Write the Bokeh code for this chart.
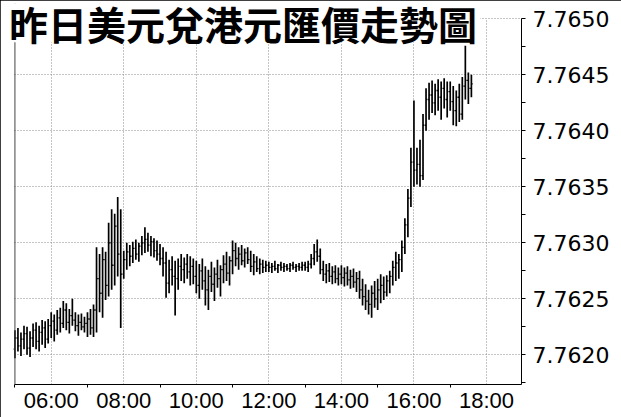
from bokeh.plotting import figure
from bokeh.models import (Range1d, FixedTicker, PrintfTickFormatter,
                          Label, ColumnDataSource, Span, BoxAnnotation)
from bokeh.embed import file_html
from bokeh.resources import INLINE

title_text = "昨日美元兌港元匯價走勢圖"

# 5-minute OHLC bars starting at 05:00
bar_start_hour = 5.0
bar_minutes = 5

opens = [
    7.76205, 7.76215, 7.76208, 7.76214, 7.76219, 7.76206, 7.76215, 7.76222, 7.76212, 7.76220, 7.76224, 7.76214,
    7.76226, 7.76230, 7.76222, 7.76233, 7.76228, 7.76240, 7.76229, 7.76235, 7.76231, 7.76226, 7.76229, 7.76225,
    7.76228, 7.76232, 7.76224, 7.76240, 7.76268, 7.76255, 7.76285, 7.76262, 7.76300, 7.76280, 7.76315, 7.76290,
    7.76272, 7.76285, 7.76292, 7.76288, 7.76295, 7.76290, 7.76297, 7.76300, 7.76303, 7.76298, 7.76301, 7.76293,
    7.76290, 7.76286, 7.76282, 7.76264, 7.76276, 7.76270, 7.76268, 7.76279, 7.76276, 7.76281, 7.76274, 7.76279,
    7.76270, 7.76262, 7.76275, 7.76266, 7.76258, 7.76270, 7.76263, 7.76272, 7.76268, 7.76276, 7.76281, 7.76273,
    7.76284, 7.76293, 7.76286, 7.76290, 7.76284, 7.76291, 7.76285, 7.76279, 7.76283, 7.76277, 7.76281, 7.76278,
    7.76280, 7.76278, 7.76279, 7.76277, 7.76280, 7.76278, 7.76279, 7.76277, 7.76280, 7.76278, 7.76279, 7.76278,
    7.76280, 7.76278, 7.76281, 7.76286, 7.76292, 7.76288, 7.76276, 7.76272, 7.76275, 7.76270, 7.76274, 7.76268,
    7.76272, 7.76269, 7.76273, 7.76267, 7.76270, 7.76265, 7.76268, 7.76258, 7.76252, 7.76248, 7.76245, 7.76255,
    7.76250, 7.76258, 7.76262, 7.76256, 7.76266, 7.76270, 7.76278, 7.76282, 7.76285, 7.76296, 7.76316, 7.76340,
    7.76372, 7.76365, 7.76370, 7.76360, 7.76405, 7.76428, 7.76432, 7.76425, 7.76436, 7.76430, 7.76438, 7.76428,
    7.76435, 7.76426, 7.76418, 7.76430, 7.76415, 7.76440, 7.76445, 7.76438,
]
highs = [
    7.76222, 7.76224, 7.76220, 7.76226, 7.76225, 7.76221, 7.76228, 7.76229, 7.76226, 7.76231, 7.76230, 7.76232,
    7.76238, 7.76236, 7.76240, 7.76242, 7.76248, 7.76246, 7.76241, 7.76250, 7.76238, 7.76236, 7.76237, 7.76234,
    7.76238, 7.76241, 7.76245, 7.76296, 7.76290, 7.76296, 7.76292, 7.76318, 7.76330, 7.76326, 7.76341, 7.76330,
    7.76293, 7.76300, 7.76298, 7.76301, 7.76303, 7.76300, 7.76306, 7.76314, 7.76309, 7.76306, 7.76304, 7.76302,
    7.76299, 7.76296, 7.76292, 7.76285, 7.76288, 7.76284, 7.76286, 7.76290, 7.76287, 7.76290, 7.76288, 7.76286,
    7.76284, 7.76281, 7.76286, 7.76279, 7.76276, 7.76283, 7.76278, 7.76285, 7.76280, 7.76289, 7.76292, 7.76288,
    7.76302, 7.76300, 7.76296, 7.76298, 7.76295, 7.76296, 7.76293, 7.76290, 7.76288, 7.76286, 7.76285, 7.76284,
    7.76283, 7.76282, 7.76284, 7.76281, 7.76283, 7.76282, 7.76281, 7.76282, 7.76283, 7.76281, 7.76282, 7.76283,
    7.76283, 7.76284, 7.76290, 7.76299, 7.76303, 7.76295, 7.76284, 7.76281, 7.76282, 7.76279, 7.76280, 7.76278,
    7.76280, 7.76278, 7.76279, 7.76276, 7.76277, 7.76274, 7.76275, 7.76268, 7.76263, 7.76258, 7.76262, 7.76266,
    7.76268, 7.76272, 7.76270, 7.76271, 7.76275, 7.76284, 7.76292, 7.76290, 7.76302, 7.76322, 7.76348, 7.76385,
    7.76427, 7.76385, 7.76392, 7.76415, 7.76438, 7.76443, 7.76445, 7.76442, 7.76446, 7.76444, 7.76447, 7.76444,
    7.76444, 7.76440, 7.76436, 7.76442, 7.76448, 7.76476, 7.76452, 7.76450,
]
lows = [
    7.76197, 7.76203, 7.76199, 7.76205, 7.76200, 7.76198, 7.76207, 7.76205, 7.76203, 7.76209, 7.76206, 7.76210,
    7.76215, 7.76212, 7.76218, 7.76220, 7.76224, 7.76222, 7.76219, 7.76226, 7.76221, 7.76217, 7.76222, 7.76220,
    7.76216, 7.76218, 7.76216, 7.76220, 7.76238, 7.76233, 7.76249, 7.76252, 7.76258, 7.76262, 7.76270, 7.76224,
    7.76268, 7.76276, 7.76279, 7.76282, 7.76285, 7.76283, 7.76289, 7.76291, 7.76292, 7.76288, 7.76287, 7.76284,
    7.76280, 7.76270, 7.76251, 7.76255, 7.76262, 7.76235, 7.76258, 7.76266, 7.76264, 7.76268, 7.76262, 7.76263,
    7.76255, 7.76250, 7.76258, 7.76244, 7.76240, 7.76256, 7.76248, 7.76260, 7.76252, 7.76264, 7.76266, 7.76262,
    7.76272, 7.76279, 7.76276, 7.76280, 7.76278, 7.76281, 7.76274, 7.76271, 7.76274, 7.76272, 7.76273, 7.76274,
    7.76274, 7.76273, 7.76275, 7.76273, 7.76275, 7.76274, 7.76275, 7.76274, 7.76276, 7.76274, 7.76275, 7.76275,
    7.76275, 7.76274, 7.76277, 7.76280, 7.76283, 7.76272, 7.76266, 7.76264, 7.76265, 7.76263, 7.76264, 7.76262,
    7.76263, 7.76261, 7.76262, 7.76259, 7.76260, 7.76256, 7.76250, 7.76244, 7.76240, 7.76236, 7.76233, 7.76242,
    7.76240, 7.76246, 7.76249, 7.76252, 7.76255, 7.76262, 7.76266, 7.76268, 7.76274, 7.76290, 7.76305, 7.76332,
    7.76350, 7.76352, 7.76350, 7.76356, 7.76400, 7.76410, 7.76416, 7.76414, 7.76418, 7.76410, 7.76420, 7.76412,
    7.76418, 7.76405, 7.76404, 7.76408, 7.76410, 7.76428, 7.76424, 7.76430,
]
closes = [
    7.76215, 7.76208, 7.76214, 7.76219, 7.76206, 7.76215, 7.76222, 7.76212, 7.76220, 7.76224, 7.76214, 7.76226,
    7.76230, 7.76222, 7.76233, 7.76228, 7.76240, 7.76229, 7.76235, 7.76231, 7.76226, 7.76229, 7.76225, 7.76228,
    7.76232, 7.76224, 7.76240, 7.76268, 7.76255, 7.76285, 7.76262, 7.76300, 7.76280, 7.76315, 7.76290, 7.76272,
    7.76285, 7.76292, 7.76288, 7.76295, 7.76290, 7.76297, 7.76300, 7.76303, 7.76298, 7.76301, 7.76293, 7.76290,
    7.76286, 7.76282, 7.76264, 7.76276, 7.76270, 7.76268, 7.76279, 7.76276, 7.76281, 7.76274, 7.76279, 7.76270,
    7.76262, 7.76275, 7.76266, 7.76258, 7.76270, 7.76263, 7.76272, 7.76268, 7.76276, 7.76281, 7.76273, 7.76284,
    7.76293, 7.76286, 7.76290, 7.76284, 7.76291, 7.76285, 7.76279, 7.76283, 7.76277, 7.76281, 7.76278, 7.76280,
    7.76278, 7.76279, 7.76277, 7.76280, 7.76278, 7.76279, 7.76277, 7.76280, 7.76278, 7.76279, 7.76278, 7.76280,
    7.76278, 7.76281, 7.76286, 7.76292, 7.76288, 7.76276, 7.76272, 7.76275, 7.76270, 7.76274, 7.76268, 7.76272,
    7.76269, 7.76273, 7.76267, 7.76270, 7.76265, 7.76268, 7.76258, 7.76252, 7.76248, 7.76245, 7.76255, 7.76250,
    7.76258, 7.76262, 7.76256, 7.76266, 7.76270, 7.76278, 7.76282, 7.76285, 7.76296, 7.76316, 7.76340, 7.76372,
    7.76365, 7.76370, 7.76360, 7.76405, 7.76428, 7.76432, 7.76425, 7.76436, 7.76430, 7.76438, 7.76428, 7.76435,
    7.76426, 7.76418, 7.76430, 7.76415, 7.76440, 7.76445, 7.76438, 7.76442,
]

x_tick_hours = [6, 8, 10, 12, 14, 16, 18]
x_tick_labels = ["06:00", "08:00", "10:00", "12:00", "14:00", "16:00", "18:00"]
x_minor_hours = [5, 7, 9, 11, 13, 15, 17, 19]
y_ticks = [7.7620, 7.7625, 7.7630, 7.7635, 7.7640, 7.7645, 7.7650]
y_minor = [7.76175, 7.76225, 7.76275, 7.76325, 7.76375, 7.76425, 7.76475]

t = [bar_start_hour + i * bar_minutes / 60 for i in range(len(closes))]
half = 0.035
src = ColumnDataSource(dict(
    t=t,
    tl=[v - half for v in t],
    tr=[v + half for v in t],
    o=opens, h=highs, l=lows, c=closes,
))

W, H = 621, 417
x_start, x_end = 4.685, 18.965
y_start, y_end = 7.761735, 7.765137
# white panel behind the title (layout constants, in axis units)
title_box_right = 17.83
title_box_bottom = 7.76479

p = figure(width=W, height=H,
           x_range=Range1d(x_start, x_end), y_range=Range1d(y_start, y_end),
           output_backend="svg", toolbar_location=None,
           x_axis_location="below", y_axis_location="right",
           min_border_left=3, min_border_right=100,
           min_border_top=3, min_border_bottom=33,
           background_fill_color="white", border_fill_color="white",
           outline_line_color=None)
# outer black frame of the picture (outline does not change the layout)
p.styles = {"outline": "3px solid black", "outline-offset": "-3px"}

# grid
p.xgrid.ticker = FixedTicker(ticks=x_tick_hours)
p.ygrid.ticker = FixedTicker(ticks=y_ticks)
for g in (p.xgrid[0], p.ygrid[0]):
    g.grid_line_color = "#8a8a8a"
    g.grid_line_dash = "1 2"
    g.grid_line_width = 1
if "cross_bounds" in p.xgrid[0].properties():
    p.xgrid[0].cross_bounds = (y_start, y_ticks[-1])
    p.ygrid[0].cross_bounds = (x_minor_hours[0], x_end)

# left frame line at 05:00
p.add_layout(Span(location=x_minor_hours[0], dimension="height",
                  line_color="#444444", line_width=1))

# bars
p.segment(x0="t", y0="l", x1="t", y1="h", source=src, line_color="black", line_width=1.7)
p.segment(x0="tl", y0="o", x1="t", y1="o", source=src, line_color="black", line_width=1.3)
p.segment(x0="t", y0="c", x1="tr", y1="c", source=src, line_color="black", line_width=1.3)

# x axis
xa = p.xaxis[0]
xa.bounds = (x_minor_hours[0], x_end)
xa.ticker = FixedTicker(ticks=x_tick_hours, minor_ticks=x_minor_hours)
xa.major_label_overrides = dict(zip(x_tick_hours, x_tick_labels))
xa.major_tick_out = 0
xa.major_tick_in = 0
xa.minor_tick_out = 3
xa.minor_tick_in = 0
xa.major_label_standoff = 0
xa.major_label_text_font = "Liberation Sans"
xa.major_label_text_font_size = "22px"
xa.major_label_text_color = "black"
xa.axis_line_color = "black"
xa.major_tick_line_color = "black"
xa.minor_tick_line_color = "black"

# y axis (right)
ya = p.yaxis[0]
ya.bounds = (y_start, y_ticks[-1])
ya.ticker = FixedTicker(ticks=y_ticks, minor_ticks=y_minor)
ya.formatter = PrintfTickFormatter(format="%.4f")
ya.major_tick_out = 4
ya.major_tick_in = 0
ya.minor_tick_out = 4
ya.minor_tick_in = 0
ya.major_label_standoff = 7
ya.major_label_text_font = "DejaVu Sans"
ya.major_label_text_font_size = "22px"
ya.major_label_text_color = "black"
ya.axis_line_color = "black"
ya.major_tick_line_color = "black"
ya.minor_tick_line_color = "black"

# white panel behind the title, then the title
p.add_layout(BoxAnnotation(left=x_start, right=title_box_right,
                           bottom=title_box_bottom, top=y_end,
                           fill_color="white", fill_alpha=1.0,
                           line_color=None))
p.add_layout(Label(x=5.5, y=362, x_units="screen", y_units="screen",
                   text=title_text, text_font="Noto Sans CJK TC",
                   text_font_size="39px", text_font_style="bold",
                   text_color="black", text_align="left",
                   text_baseline="alphabetic"))

open("out.html", "w").write(file_html(p, INLINE))
